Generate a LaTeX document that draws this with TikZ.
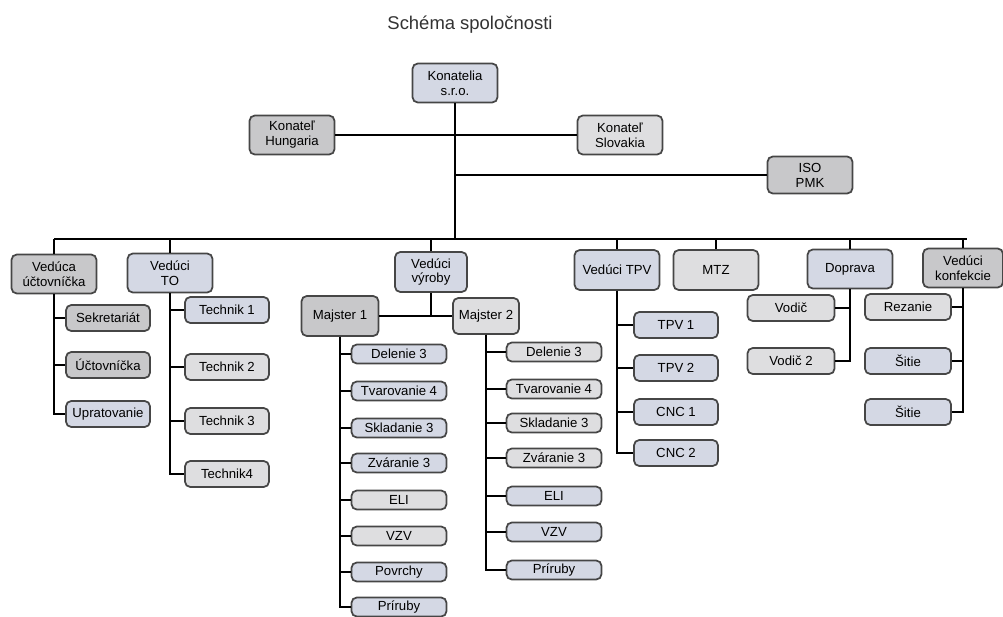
\documentclass[tikz,border=0pt]{standalone}
\usepackage{fontspec}
\setmainfont{Liberation Sans}
\definecolor{boxblue}{RGB}{212,216,228}
\definecolor{boxgray}{RGB}{200,200,202}
\definecolor{boxlight}{RGB}{222,222,224}
\definecolor{edgegray}{RGB}{70,70,70}
\begin{document}
\begin{tikzpicture}[x=0.02cm,y=-0.02cm,
    box/.style={draw=edgegray, line width=1pt, rounded corners=3pt, fill=boxblue,
        align=center, inner sep=1pt, font=\fontsize{7.5}{8.5}\selectfont},
    lead/.style={box, minimum width=1.7cm, minimum height=0.78cm},
    item/.style={box, minimum width=1.68cm, minimum height=0.52cm},
    shop/.style={box, minimum width=1.9cm, minimum height=0.38cm},
    wire/.style={line width=1.6pt, black}]
    \useasboundingbox (0,0) rectangle (1003,616);

    \node[font=\fontsize{10.5}{12}\selectfont, text=black!80] (title) at (470,25) {Schéma spoločnosti};

    \node[lead] (kon) at (455,83) {Konatelia\\s.r.o.};
    \node[lead, fill=boxgray] (hun) at (292,135) {Konateľ\\Hungaria};
    \node[lead, fill=boxlight] (slo) at (620,135) {Konateľ\\Slovakia};
    \node[lead, fill=boxgray, minimum height=0.74cm] (iso) at (810,175) {ISO\\PMK};

    \node[lead, fill=boxgray] (vu) at (54,274) {Vedúca\\účtovníčka};
    \node[lead] (vto) at (170,273) {Vedúci\\TO};
    \node[lead, minimum width=1.44cm, minimum height=0.8cm] (vv) at (431,272) {Vedúci\\výroby};
    \node[lead, minimum height=0.8cm] (vtpv) at (617,270) {Vedúci TPV};
    \node[lead, fill=boxlight, minimum height=0.8cm] (mtz) at (716,270) {MTZ};
    \node[lead] (dop) at (850,269) {Doprava};
    \node[lead, fill=boxgray, minimum width=1.6cm] (vk) at (963,268) {Vedúci\\konfekcie};

    \node[lead, fill=boxgray, minimum width=1.54cm, minimum height=0.8cm] (m1) at (340,316) {Majster 1};
    \node[lead, fill=boxlight, minimum width=1.32cm, minimum height=0.72cm] (m2) at (486,316) {Majster 2};

    \node[item, fill=boxgray] (sekr) at (108,318) {Sekretariát};
    \node[item, fill=boxgray] (uct) at (108,365) {Účtovníčka};
    \node[item] (upr) at (108,414) {Upratovanie};

    \node[item] (t1) at (227,310) {Technik 1};
    \node[item, fill=boxlight] (t2) at (227,367) {Technik 2};
    \node[item, fill=boxlight] (t3) at (227,421) {Technik 3};
    \node[item, fill=boxlight] (t4) at (227,474) {Technik4};

    \node[shop] (a1) at (399,354) {Delenie 3};
    \node[shop] (a2) at (399,391) {Tvarovanie 4};
    \node[shop] (a3) at (399,428) {Skladanie 3};
    \node[shop] (a4) at (399,463) {Zváranie 3};
    \node[shop, fill=boxlight] (a5) at (399,500) {ELI};
    \node[shop, fill=boxlight] (a6) at (399,536) {VZV};
    \node[shop] (a7) at (399,572) {Povrchy};
    \node[shop] (a8) at (399,607) {Príruby};

    \node[shop, fill=boxlight] (b1) at (554,352) {Delenie 3};
    \node[shop, fill=boxlight] (b2) at (554,389) {Tvarovanie 4};
    \node[shop, fill=boxlight] (b3) at (554,423) {Skladanie 3};
    \node[shop, fill=boxlight] (b4) at (554,458) {Zváranie 3};
    \node[shop] (b5) at (554,496) {ELI};
    \node[shop] (b6) at (554,532) {VZV};
    \node[shop] (b7) at (554,570) {Príruby};

    \node[item] (tpv1) at (676,325) {TPV 1};
    \node[item] (tpv2) at (676,368) {TPV 2};
    \node[item] (cnc1) at (676,412) {CNC 1};
    \node[item] (cnc2) at (676,453) {CNC 2};

    \node[item, fill=boxlight, minimum width=1.74cm] (vod1) at (791,308) {Vodič};
    \node[item, fill=boxlight, minimum width=1.74cm] (vod2) at (791,361) {Vodič 2};

    \node[item, fill=boxlight, minimum width=1.72cm] (rez) at (908,307) {Rezanie};
    \node[item, minimum width=1.72cm] (sit1) at (908,361) {Šitie};
    \node[item, minimum width=1.72cm] (sit2) at (908,412) {Šitie};

    \coordinate (busL) at (54,239);
    \coordinate (busR) at (967,239);

    \draw[wire] (kon.south) -- (kon.south |- busL);
    \draw[wire] (hun.east) -- (slo.west);
    \draw[wire] (iso.west) -- (iso.west -| kon.south);
    \draw[wire] (busL) -- (busR);
    \draw[wire] (vu.north) -- (vu.north |- busL);
    \draw[wire] (vto.north) -- (vto.north |- busL);
    \draw[wire] (vv.north) -- (vv.north |- busL);
    \draw[wire] (vtpv.north) -- (vtpv.north |- busL);
    \draw[wire] (mtz.north) -- (mtz.north |- busL);
    \draw[wire] (dop.north) -- (dop.north |- busL);
    \draw[wire] (vk.north) -- (vk.north |- busL);

    \draw[wire] (vu.south) |- (sekr.west);
    \draw[wire] (vu.south) |- (uct.west);
    \draw[wire] (vu.south) |- (upr.west);

    \draw[wire] (vto.south) |- (t1.west);
    \draw[wire] (vto.south) |- (t2.west);
    \draw[wire] (vto.south) |- (t3.west);
    \draw[wire] (vto.south) |- (t4.west);

    \draw[wire] (m1.east) -- (m2.west);
    \draw[wire] (vv.south) -- (vv.south |- m2.west);

    \draw[wire] (m1.south) |- (a1.west);
    \draw[wire] (m1.south) |- (a2.west);
    \draw[wire] (m1.south) |- (a3.west);
    \draw[wire] (m1.south) |- (a4.west);
    \draw[wire] (m1.south) |- (a5.west);
    \draw[wire] (m1.south) |- (a6.west);
    \draw[wire] (m1.south) |- (a7.west);
    \draw[wire] (m1.south) |- (a8.west);

    \draw[wire] (m2.south) |- (b1.west);
    \draw[wire] (m2.south) |- (b2.west);
    \draw[wire] (m2.south) |- (b3.west);
    \draw[wire] (m2.south) |- (b4.west);
    \draw[wire] (m2.south) |- (b5.west);
    \draw[wire] (m2.south) |- (b6.west);
    \draw[wire] (m2.south) |- (b7.west);

    \draw[wire] (vtpv.south) |- (tpv1.west);
    \draw[wire] (vtpv.south) |- (tpv2.west);
    \draw[wire] (vtpv.south) |- (cnc1.west);
    \draw[wire] (vtpv.south) |- (cnc2.west);

    \draw[wire] (dop.south) |- (vod1.east);
    \draw[wire] (dop.south) |- (vod2.east);

    \draw[wire] (vk.south) |- (rez.east);
    \draw[wire] (vk.south) |- (sit1.east);
    \draw[wire] (vk.south) |- (sit2.east);
\end{tikzpicture}
\end{document}
